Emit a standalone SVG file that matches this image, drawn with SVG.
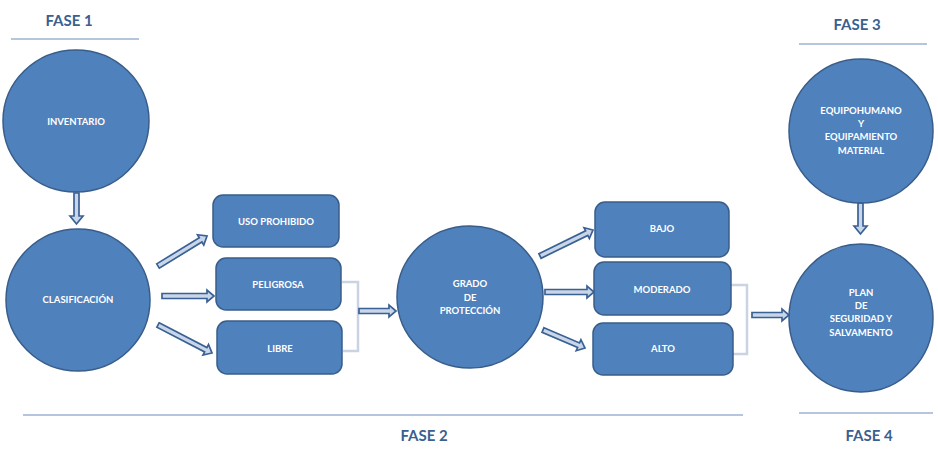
<svg xmlns="http://www.w3.org/2000/svg" width="938" height="452" viewBox="0 0 938 452">
<style>
.n{fill:#4f81bd;stroke:#385d8a;stroke-width:1.5}
.t{fill:#fff;font-family:Lato,"Liberation Sans",sans-serif;font-weight:bold;font-size:9.5px;text-anchor:middle;dominant-baseline:central}
.f{fill:#3b5f8f;font-family:Lato,"Liberation Sans",sans-serif;font-weight:bold;font-size:15px;text-anchor:middle;dominant-baseline:central}
.ln{stroke:#6a8cbc;stroke-width:1.2;fill:none}
.a{fill:#c9d6ea;stroke:#3a6194;stroke-width:1.7;stroke-linejoin:miter}
.b{fill:none;stroke:#c9d3e2;stroke-width:2.5}
</style>
<g id="phases">
<text class="f" x="69" y="20">FASE 1</text>
<line class="ln" x1="11" y1="39" x2="139" y2="39"/>
<text class="f" x="857" y="24">FASE 3</text>
<line class="ln" x1="799" y1="44" x2="927" y2="44"/>
<text class="f" x="424" y="435">FASE 2</text>
<line class="ln" x1="23" y1="415" x2="743" y2="415"/>
<text class="f" x="869" y="435">FASE 4</text>
<line class="ln" x1="799" y1="413" x2="933" y2="413"/>
</g>
<g id="connectors">
<path class="a" d="M74,193 H79 V216 H83 L76.5,224 L70,216 H74 Z"/>
<path class="a" d="M858,203 H863 V226 H867 L860.5,234 L854,226 H858 Z"/>
<g transform="translate(158,266) rotate(-31.5)"><path class="a" d="M0,-2.5 H50 V-6 L57.5,0 L50,6 V2.5 H0 Z"/></g>
<g transform="translate(162,296)"><path class="a" d="M0,-2.5 H45 V-6 L52,0 L45,6 V2.5 H0 Z"/></g>
<g transform="translate(158,325) rotate(27.4)"><path class="a" d="M0,-2.5 H53.8 V-6 L60.8,0 L53.8,6 V2.5 H0 Z"/></g>
<g transform="translate(540,256) rotate(-26.1)"><path class="a" d="M0,-2.5 H52 V-6 L59,0 L52,6 V2.5 H0 Z"/></g>
<g transform="translate(545,292)"><path class="a" d="M0,-2.5 H42 V-6 L49,0 L42,6 V2.5 H0 Z"/></g>
<g transform="translate(543,330) rotate(23.2)"><path class="a" d="M0,-2.5 H38.7 V-6 L45.7,0 L38.7,6 V2.5 H0 Z"/></g>
<path class="b" d="M342,282 H358 V351 H343"/>
<path class="b" d="M731,285 H747 V354 H733"/>
<g transform="translate(359,311)"><path class="a" d="M0,-2.5 H30 V-6 L37,0 L30,6 V2.5 H0 Z"/></g>
<g transform="translate(752,315)"><path class="a" d="M0,-2.5 H30 V-6 L37,0 L30,6 V2.5 H0 Z"/></g>
</g>
<g id="inventario"><ellipse class="n" cx="76" cy="121" rx="73" ry="71"/><text class="t" x="76" y="121">INVENTARIO</text></g>
<g id="clasificacion"><ellipse class="n" cx="78" cy="300" rx="72" ry="71"/><text class="t" x="78" y="299">CLASIFICACIÓN</text></g>
<g id="uso"><rect class="n" x="213" y="195" width="126" height="52" rx="10"/><text class="t" x="276" y="221">USO PROHIBIDO</text></g>
<g id="peligrosa"><rect class="n" x="216" y="258" width="125" height="52" rx="10"/><text class="t" x="278" y="284">PELIGROSA</text></g>
<g id="libre"><rect class="n" x="217" y="321" width="125" height="53" rx="10"/><text class="t" x="280" y="348">LIBRE</text></g>
<g id="grado"><ellipse class="n" cx="470" cy="297" rx="73" ry="71"/>
<text class="t" x="470" y="283">GRADO</text><text class="t" x="470" y="297">DE</text><text class="t" x="470" y="310">PROTECCIÓN</text></g>
<g id="bajo"><rect class="n" x="595" y="202" width="134" height="55" rx="10"/><text class="t" x="662" y="228">BAJO</text></g>
<g id="moderado"><rect class="n" x="594" y="262" width="137" height="53" rx="10"/><text class="t" x="662" y="289">MODERADO</text></g>
<g id="alto"><rect class="n" x="593" y="323" width="140" height="52" rx="10"/><text class="t" x="663" y="348">ALTO</text></g>
<g id="equipo"><ellipse class="n" cx="861" cy="131" rx="72" ry="72"/>
<text class="t" x="861" y="110">EQUIPOHUMANO</text><text class="t" x="861" y="123">Y</text><text class="t" x="861" y="136">EQUIPAMIENTO</text><text class="t" x="861" y="150">MATERIAL</text></g>
<g id="plan"><ellipse class="n" cx="861" cy="318" rx="72" ry="74"/>
<text class="t" x="861" y="292">PLAN</text><text class="t" x="861" y="305">DE</text><text class="t" x="861" y="318">SEGURIDAD Y</text><text class="t" x="861" y="332">SALVAMENTO</text></g>
</svg>
